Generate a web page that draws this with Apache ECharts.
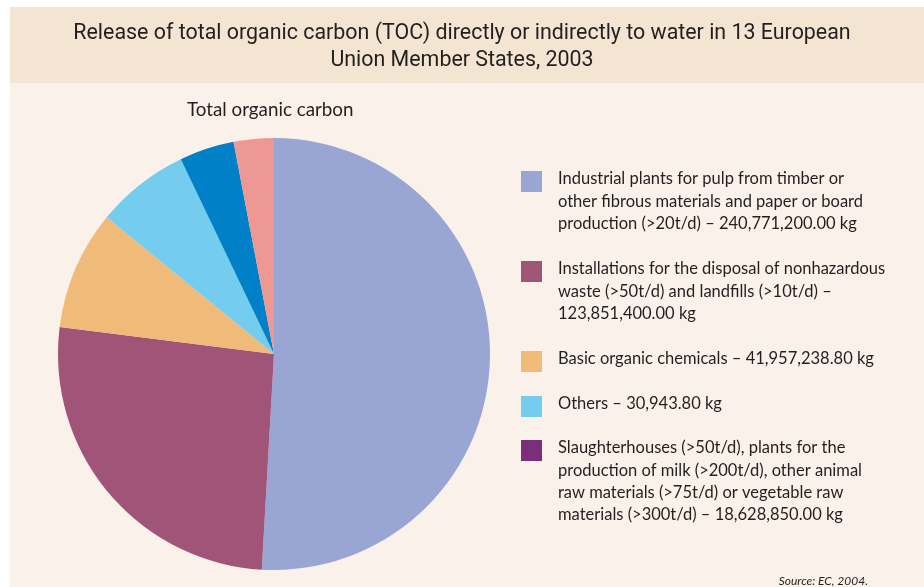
<!DOCTYPE html>
<html>
<head>
<meta charset="utf-8">
<script src="https://cdn.jsdelivr.net/npm/echarts@6/dist/echarts.min.js"></script>
<style>
  html, body { margin: 0; padding: 0; background: #fff; }
  #main { width: 924px; height: 587px; }
</style>
</head>
<body>
<div id="main"></div>
<script>
// 饼图扇区（按图中角度估算的百分比，从12点钟方向顺时针）
const sliceNames = [
  'Industrial plants for pulp and paper',
  'Installations for nonhazardous waste and landfills',
  'Basic organic chemicals',
  'Others',
  'Unlabelled (dark blue)',
  'Unlabelled (pink)'
];
const sliceValues = [50.9, 26.1, 8.9, 7.0, 4.1, 3.0];
const sliceColors = ['#99a5d3', '#a05578', '#f0ba78', '#74cdef', '#0080c6', '#ee9893'];

// 图例（原图只列出5项）
const legendColors = ['#99a5d3', '#a05578', '#f0ba78', '#74cdef', '#7b2f7a'];
const legendLabels = [
  'Industrial plants for pulp from timber or\nother fibrous materials and paper or board\nproduction (>20t/d) \u2013 240,771,200.00 kg',
  'Installations for the disposal of nonhazardous\nwaste (>50t/d) and landfills (>10t/d) \u2013\n123,851,400.00 kg',
  'Basic organic chemicals \u2013 41,957,238.80 kg',
  'Others \u2013 30,943.80 kg',
  'Slaughterhouses (>50t/d), plants for the\nproduction of milk (>200t/d), other animal\nraw materials (>75t/d) or vegetable raw\nmaterials (>300t/d) \u2013 18,628,850.00 kg'
];
const legendFirstLineY = [177, 267, 357, 402, 446];

const titleText = 'Release of total organic carbon (TOC) directly or indirectly to water in 13 European\nUnion Member States, 2003';
const pieTitle = 'Total organic carbon';
const sourceText = 'Source: EC, 2004.';

const chart = echarts.init(document.getElementById('main'), null, { renderer: 'canvas' });

const LINE_H = 22.3;
const legendGraphics = [];
legendLabels.forEach((label, i) => {
  const cy = legendFirstLineY[i];
  legendGraphics.push({
    type: 'rect',
    shape: { x: 521, y: cy - 6, width: 21, height: 21 },
    style: { fill: legendColors[i] },
    z: 10
  });
  legendGraphics.push({
    type: 'text',
    x: 558,
    y: cy - LINE_H / 2 + 2,
    style: {
      text: label,
      font: '16.5px Lato, "Noto Sans", sans-serif',
      lineHeight: LINE_H,
      fill: '#231f20',
      verticalAlign: 'top'
    },
    z: 10
  });
});

const option = {
  backgroundColor: '#ffffff',
  animation: false,
  title: [
    {
      text: pieTitle,
      left: 187,
      top: 100,
      padding: 0,
      textStyle: {
        fontFamily: 'Lato, sans-serif',
        fontWeight: 'normal',
        fontSize: 18.8,
        color: '#231f20'
      }
    },
    {
      text: sourceText,
      right: 56,
      top: 575,
      padding: 0,
      textStyle: {
        fontFamily: 'Lato, sans-serif',
        fontStyle: 'italic',
        fontWeight: 'normal',
        fontSize: 12,
        color: '#231f20'
      }
    }
  ],
  graphic: [
    {
      type: 'rect',
      shape: { x: 10, y: 83, width: 914, height: 504 },
      style: { fill: '#faf1eb' },
      z: -10
    },
    {
      type: 'rect',
      shape: { x: 10, y: 7, width: 914, height: 76 },
      style: { fill: '#f3e5d1' },
      z: -10
    },
    {
      type: 'text',
      x: 462,
      y: 20.5,
      style: {
        text: titleText,
        font: '21.4px Roboto, sans-serif',
        lineHeight: 27,
        fill: '#231f20',
        align: 'center',
        verticalAlign: 'top'
      },
      z: 10
    }
  ].concat(legendGraphics),
  series: [{
    type: 'pie',
    center: [274, 354],
    radius: 216,
    startAngle: 90,
    clockwise: true,
    silent: true,
    label: { show: false },
    labelLine: { show: false },
    emphasis: { disabled: true },
    itemStyle: { borderWidth: 0 },
    data: sliceNames.map((name, i) => ({
      name: name,
      value: sliceValues[i],
      itemStyle: { color: sliceColors[i] }
    }))
  }]
};

chart.setOption(option);
</script>
</body>
</html>
